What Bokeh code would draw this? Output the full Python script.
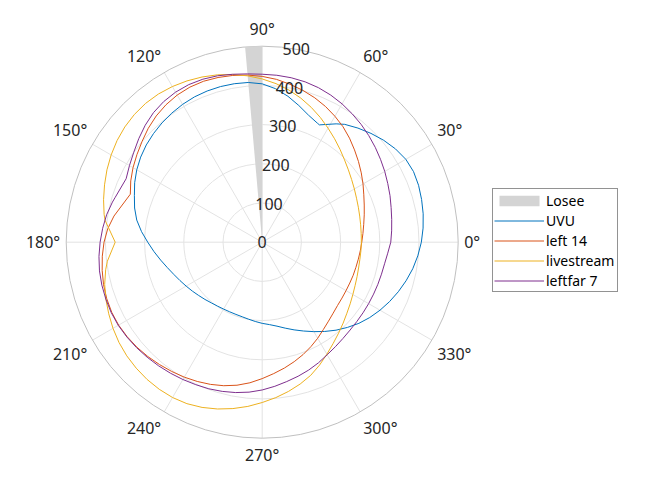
import numpy as np
from bokeh.plotting import figure
from bokeh.models import Range1d, Legend, LegendItem
from bokeh.core.properties import value
from bokeh.embed import file_html
from bokeh.resources import INLINE

# ---------------- data (degrees, radius) ----------------
uvu_theta = [0, 5, 10, 15, 20, 25, 30, 35, 40, 45, 50, 55, 58, 64, 65, 70, 75, 80, 85, 90,
             95, 100, 105, 110, 115, 120, 125, 130, 135, 140, 145, 150, 155, 160, 165, 170,
             175, 180, 185, 190, 195, 200, 205, 210, 215, 220, 225, 230, 235, 240, 245, 250,
             255, 260, 265, 270, 275, 280, 285, 290, 295, 300, 305, 310, 315, 320, 325, 330,
             335, 340, 345, 350, 355, 360]
uvu_r = [406, 412, 417, 421, 424.5, 426, 423, 415, 404.5, 392.5, 380, 367, 356, 333, 334.5, 345, 361, 378, 393, 404,
         409, 410.5, 411, 410.5, 409, 406, 402, 397.5, 392, 386, 378.5, 369.5, 359, 347, 337, 325,
         309, 292, 277, 263, 250.5, 240, 231.5, 224, 217.5, 211.5, 206.5, 202, 199, 197, 196, 196,
         197, 199.5, 203, 207, 211, 217.5, 227, 238, 250, 263.5, 278, 293, 307.5, 322, 335, 347,
         358.5, 369.5, 380, 390, 398.5, 406]

left14_theta = [0, 5, 10, 15, 20, 25, 30, 35, 40, 45, 50, 55, 60, 65, 70, 75, 80, 85, 90, 95,
                100, 105, 110, 115, 120, 125, 130, 135, 140, 145, 150, 155, 160, 170, 175, 180,
                185, 190, 195, 200, 205, 210, 215, 220, 225, 230, 235, 240, 245, 250, 255, 260,
                265, 270, 275, 280, 285, 290, 295, 300, 305, 310, 315, 320, 325, 330, 335, 340,
                345, 350, 355, 360]
left14_r = [254, 258, 263, 269.5, 277, 286, 297, 308.5, 320.5, 333, 346.5, 359.5, 371, 382, 392, 401, 409, 417, 423, 428,
            432, 435, 437, 436.5, 433.5, 428, 420.5, 411, 400, 390, 380.5, 370, 358, 384, 395.5, 403.5,
            409.5, 414.5, 419, 422, 423.5, 423, 420.5, 417, 412.5, 407.5, 402.5, 397.5, 392, 386, 379, 370.5,
            360, 348, 336.5, 326, 315.5, 305, 294, 283, 272, 263, 256, 251, 248.5, 247, 246.5, 247,
            247.5, 249, 251.2, 254]

live_theta = [0, 5, 10, 15, 20, 25, 30, 35, 40, 45, 50, 55, 60, 65, 70, 75, 80, 85, 90, 95,
              100, 105, 110, 115, 120, 125, 130, 135, 140, 145, 150, 155, 160, 165, 170, 172,
              180, 187, 190, 195, 200, 205, 210, 215, 220, 225, 230, 235, 240, 245, 250, 255,
              260, 265, 270, 275, 280, 285, 290, 295, 300, 305, 310, 315, 320, 325, 330, 335,
              340, 345, 350, 355, 360]
live_r = [253, 253.5, 255, 257.5, 261, 265.5, 271.5, 278.5, 287, 297, 309, 322, 336, 351, 366, 380.5, 394, 406, 416.5, 426,
          434.5, 442, 448.5, 454, 458.5, 461.5, 462.5, 461, 457.5, 452, 445, 437, 428, 419, 409.5, 405,
          375, 398, 405.5, 416, 424.5, 432, 439.5, 446, 451, 454.5, 457, 458, 457.5, 454.5, 448.5, 440.5,
          431, 420.5, 409, 398, 386.5, 374.5, 361.5, 346, 330, 315.5, 303, 292, 282, 274, 267, 261.5,
          257.5, 254.5, 253, 252.8, 253]

far7_theta = [0, 5, 10, 15, 20, 25, 30, 35, 40, 45, 50, 55, 60, 65, 70, 75, 80, 85, 90, 95,
              100, 105, 110, 115, 120, 125, 130, 135, 140, 145, 150, 155, 163, 165, 170, 175,
              180, 185, 190, 195, 200, 205, 210, 215, 220, 225, 230, 235, 240, 245, 250, 255,
              260, 265, 270, 275, 280, 285, 290, 295, 300, 305, 310, 315, 320, 325, 330, 335,
              340, 345, 350, 355, 360]
far7_r = [328, 331.5, 335.5, 340.5, 347, 353.5, 361, 368.5, 376.5, 384.5, 392.5, 400, 407.5, 414, 419.5, 423.5, 426, 427.5, 428.5, 431,
          435, 439.5, 442.5, 443.5, 442, 438, 431.5, 422, 411, 400, 391, 383, 392, 395.5, 403, 408.5,
          413.5, 418, 421.5, 423.5, 424.5, 425, 424, 421.5, 418.5, 415, 411.5, 408, 404.5, 401, 398, 394,
          389.5, 384, 377, 369, 361, 354, 347, 339.5, 331.5, 325.5, 320.5, 317, 315, 314, 313.5, 313.5,
          314, 315, 317, 321.5, 328]

losee_start = 90
losee_end = 95
losee_r = 500

r_ticks = [0, 100, 200, 300, 400, 500]
r_tick_labels = ["0", "100", "200", "300", "400", "500"]
theta_ticks = [0, 30, 60, 90, 120, 150, 180, 210, 240, 270, 300, 330]
theta_tick_labels = ["0°", "30°", "60°", "90°", "120°", "150°", "180°", "210°", "240°", "270°", "300°", "330°"]

series_names = ["UVU", "left 14", "livestream", "leftfar 7"]
series_colors = ["#0072BD", "#D95319", "#EDB120", "#7E2F8E"]

# ---------------- geometry ----------------
W, H = 667, 500
CX, CY = 261.7, 241.7          # pixel position of polar origin
RPX = 196.0                     # pixels for rmax
RMAX = 500.0
s = RPX / RMAX                  # px per data unit

x_range = Range1d(-CX / s, (W - CX) / s)
y_range = Range1d(-(H - CY) / s, CY / s)

p = figure(width=W, height=H, x_range=x_range, y_range=y_range,
           output_backend="svg", toolbar_location=None, min_border=0,
           x_axis_type=None, y_axis_type=None)
p.grid.visible = False
p.outline_line_color = None
p.background_fill_color = "white"
p.border_fill_color = "white"

grid_col = "#e3e3e3"
outer_col = "#c0c0c0"
txt_col = "#262626"
font = value("Noto Sans")

# rings
p.circle(x=[0] * 4, y=[0] * 4, radius=r_ticks[1:-1], fill_color=None,
         line_color=grid_col, line_width=1)
# spokes
th = np.radians(theta_ticks)
p.segment(x0=[0] * len(th), y0=[0] * len(th), x1=RMAX * np.cos(th), y1=RMAX * np.sin(th),
          line_color=grid_col, line_width=1)
# outer ring
p.circle(x=[0], y=[0], radius=[RMAX], fill_color=None, line_color=outer_col, line_width=1)

# Losee wedge
wr = p.wedge(x=[0], y=[0], radius=[losee_r], start_angle=[losee_start], end_angle=[losee_end],
             start_angle_units="deg", end_angle_units="deg",
             fill_color="#d4d4d4", line_color=None)

items = [LegendItem(label="Losee", renderers=[wr])]
for name, col, tt, rr in zip(series_names, series_colors,
                             [uvu_theta, left14_theta, live_theta, far7_theta],
                             [uvu_r, left14_r, live_r, far7_r]):
    a = np.radians(tt)
    rr = np.asarray(rr, dtype=float)
    ln = p.line(x=rr * np.cos(a), y=rr * np.sin(a), line_color=col, line_width=1)
    items.append(LegendItem(label=name, renderers=[ln]))

# radial tick labels at 80 degrees
ra = np.radians(80)
p.text(x=[r * np.cos(ra) for r in r_ticks], y=[r * np.sin(ra) for r in r_ticks], text=r_tick_labels,
       text_align="center", text_baseline="middle", text_font=font,
       text_font_size="16px", text_color=txt_col)

# theta tick labels: anchored just outside the outer ring, aligned by quadrant
gap = 6.0
for t, lab in zip(theta_ticks, theta_tick_labels):
    a = np.radians(t)
    d = (RPX + gap) / s
    c, sn = np.cos(a), np.sin(a)
    al = "left" if c > 0.01 else ("right" if c < -0.01 else "center")
    bl = "bottom" if sn > 0.01 else ("top" if sn < -0.01 else "middle")
    p.text(x=[d * c], y=[d * sn], text=[lab], text_align=al, text_baseline=bl,
           text_font=font, text_font_size="16px", text_color=txt_col)

legend = Legend(items=items, location=(492, 208))
legend.label_text_font = "Noto Sans"
legend.label_text_font_size = "14px"
legend.label_text_color = "#000000"
legend.glyph_width = 50
legend.glyph_height = 13
legend.label_height = 20
legend.label_standoff = 2
legend.label_width = 70
legend.padding = 1
legend.spacing = 0
legend.margin = 0
legend.border_line_color = "#262626"
legend.border_line_width = 1
legend.background_fill_color = "white"
legend.background_fill_alpha = 1.0
p.add_layout(legend)

open("out.html", "w").write(file_html(p, INLINE))
